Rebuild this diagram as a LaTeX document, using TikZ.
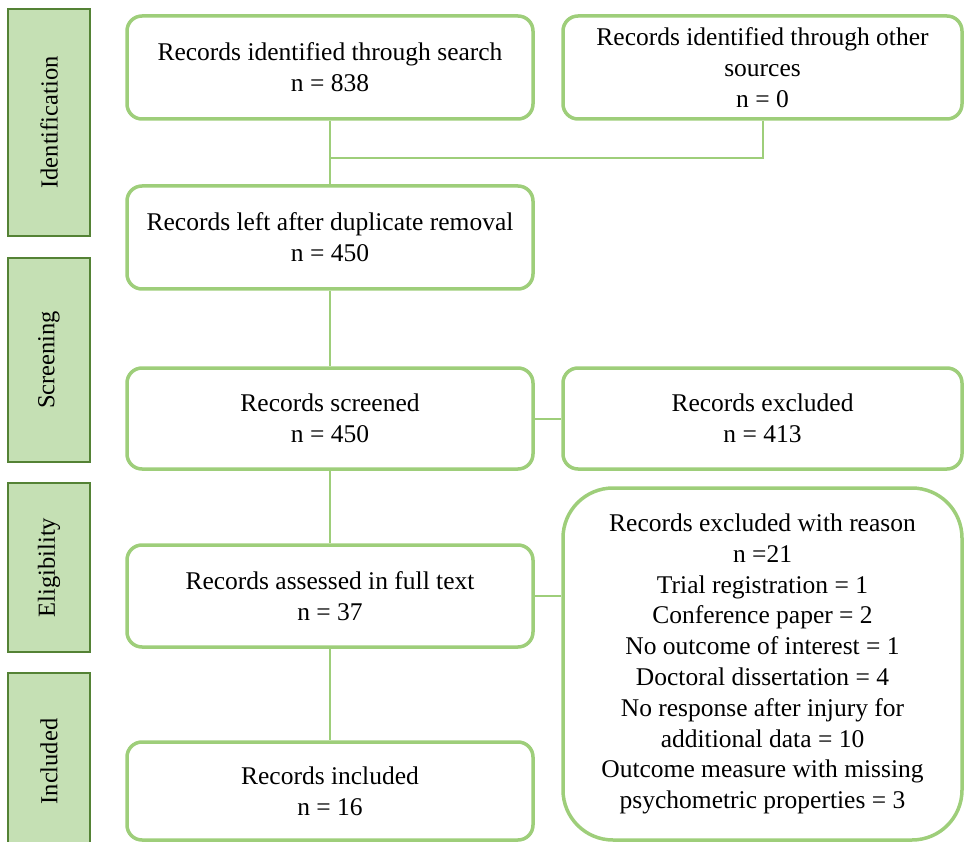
\documentclass[tikz,border=0pt]{standalone}
\usepackage{fontspec}
\setmainfont{Liberation Serif}
\definecolor{boxgreen}{RGB}{158,206,122}
\definecolor{stagefill}{RGB}{197,224,180}
\definecolor{stageline}{RGB}{84,130,53}
\begin{document}
\begin{tikzpicture}[x=1pt,y=-1pt,
  stepbox/.style={draw=boxgreen,line width=3.5pt,rounded corners=15pt,fill=white,
    align=center,inner sep=0pt,font=\fontsize{25.5}{30.8}\selectfont},
  stage/.style={draw=stageline,line width=1.6pt,fill=stagefill,rotate=90,
    inner sep=0pt,minimum height=82pt,font=\fontsize{24.5}{30}\selectfont},
  conn/.style={draw=boxgreen,line width=2pt}]
\useasboundingbox (0,0) rectangle (964,842);

% stage labels
\node[stage,minimum width=227pt] (sid) at (49,122.5) {Identification};
\node[stage,minimum width=204pt] (sscr) at (49,360) {Screening};
\node[stage,minimum width=169pt] (selig) at (49,567.5) {Eligibility};
\node[stage,minimum width=177pt] (sinc) at (49,761.5) {Included};

% flow boxes
\node[stepbox,minimum width=406pt,minimum height=103pt] (search) at (330,67.5)
  {Records identified through search\\n = 838};
\node[stepbox,minimum width=399pt,minimum height=103pt] (other) at (762.5,67.5)
  {Records identified through other\\sources\\n = 0};
\node[stepbox,minimum width=406pt,minimum height=103pt] (dup) at (330,237.5)
  {Records left after duplicate removal\\n = 450};
\node[stepbox,minimum width=406pt,minimum height=101pt] (scr) at (330,418.5)
  {Records screened\\n = 450};
\node[stepbox,minimum width=399pt,minimum height=101pt] (exc) at (762.5,418.5)
  {Records excluded\\n = 413};
\node[stepbox,minimum width=406pt,minimum height=102pt] (ass) at (330,596)
  {Records assessed in full text\\n = 37};
\node[stepbox,minimum width=406pt,minimum height=98pt] (inc) at (330,791)
  {Records included\\n = 16};
\node[stepbox,rounded corners=50pt,minimum width=399pt,minimum height=352pt] (reason) at (762.5,664)
  {Records excluded with reason\\n =21\\Trial registration = 1\\Conference paper = 2\\
   No outcome of interest = 1\\Doctoral dissertation = 4\\No response after injury for\\
   additional data = 10\\Outcome measure with missing\\psychometric properties = 3};

% connectors
\coordinate (join) at (330,158);
\draw[conn] (search.south) -- (dup.north);
\draw[conn] (other.south) |- (join);
\draw[conn] (dup.south) -- (scr.north);
\draw[conn] (scr.east) -- (exc.west);
\draw[conn] (scr.south) -- (ass.north);
\draw[conn] (ass.east) -- (ass.east -| reason.west);
\draw[conn] (ass.south) -- (inc.north);
\end{tikzpicture}
\end{document}
